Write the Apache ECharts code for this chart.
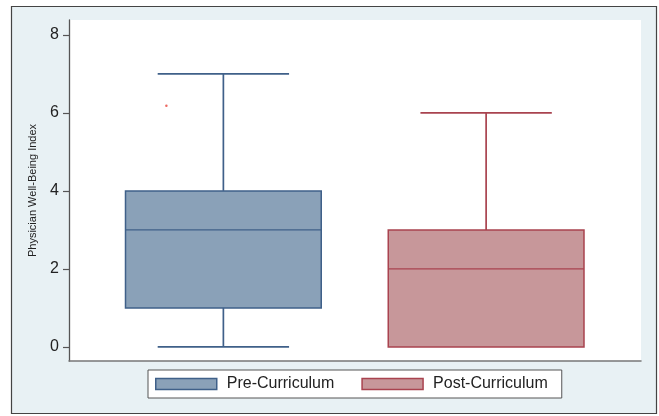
<!DOCTYPE html>
<html><head><meta charset="utf-8">
<script src="https://cdn.jsdelivr.net/npm/echarts@6/dist/echarts.min.js"></script>
<style>html,body{margin:0;padding:0;background:#fff}#c{width:659px;height:416px}</style>
</head><body><div id="c"></div>
<script>
const categories = ['Pre-Curriculum', 'Post-Curriculum'];
const mins    = [0, 0];
const q1s     = [1, 0];
const medians = [3, 2];
const q3s     = [4, 3];
const maxes   = [7, 6];
const outliers = [[0, 6.18]];
const yTicks = [0, 2, 4, 6, 8];
const yAxisName = 'Physician Well-Being Index';

const fills = ['#8aa1b8', '#c7979a'];
const strokes = ['#3f6089', '#a9434f'];

const chart = echarts.init(document.getElementById('c'), null, {renderer: 'canvas'});

function makeSeries(i) {
  return {
    name: categories[i],
    type: 'custom',
    xAxisIndex: 0, yAxisIndex: 0,
    itemStyle: {color: fills[i], borderColor: strokes[i], borderWidth: 1.5},
    data: [[i, mins[i], q1s[i], medians[i], q3s[i], maxes[i]]],
    renderItem: function (params, api) {
      const cat = api.value(0);
      const band = api.size([1, 0])[0];
      const bw = band * 0.745, cw = band * 0.5;
      const pMin = api.coord([cat, api.value(1)]);
      const pQ1 = api.coord([cat, api.value(2)]);
      const pMed = api.coord([cat, api.value(3)]);
      const pQ3 = api.coord([cat, api.value(4)]);
      const pMax = api.coord([cat, api.value(5)]);
      const cx = pMed[0];
      const st = {stroke: strokes[i], lineWidth: 1.7, fill: null};
      const children = [
        {type: 'line', shape: {x1: cx, y1: pQ3[1], x2: cx, y2: pMax[1]}, style: st},
        {type: 'line', shape: {x1: cx - cw / 2, y1: pMax[1], x2: cx + cw / 2, y2: pMax[1]}, style: st},
        {type: 'rect', shape: {x: cx - bw / 2, y: pQ3[1], width: bw, height: pQ1[1] - pQ3[1]},
          style: {fill: fills[i], stroke: strokes[i], lineWidth: 1.5}},
        {type: 'line', shape: {x1: cx - bw / 2, y1: pMed[1], x2: cx + bw / 2, y2: pMed[1]}, style: {stroke: strokes[i], lineWidth: 1.3}}
      ];
      if (pMin[1] - pQ1[1] > 0.5) {
        children.push({type: 'line', shape: {x1: cx, y1: pQ1[1], x2: cx, y2: pMin[1]}, style: st});
        children.push({type: 'line', shape: {x1: cx - cw / 2, y1: pMin[1], x2: cx + cw / 2, y2: pMin[1]}, style: st});
      }
      return {type: 'group', children: children};
    }
  };
}

const option = {
  animation: false,
  backgroundColor: '#ffffff',
  graphic: [{
    type: 'rect', z: -10, silent: true,
    shape: {x: 11.5, y: 6.5, width: 645, height: 407},
    style: {fill: '#e8f1f4', stroke: '#444', lineWidth: 1.2}
  }],
  grid: [
    {left: 92, right: 41.5, top: 20, bottom: 55, show: false},
    {left: 69, right: 18, top: 20, bottom: 55, show: true, backgroundColor: '#ffffff', borderWidth: 0, z: -1}
  ],
  xAxis: [
    {type: 'category', gridIndex: 0, data: categories, boundaryGap: true,
      axisLine: {show: false}, axisTick: {show: false}, axisLabel: {show: false}},
    {type: 'value', gridIndex: 1, min: 0, max: 1,
      axisLine: {show: true, lineStyle: {color: '#777', width: 1.5}},
      axisTick: {show: false}, axisLabel: {show: false}, splitLine: {show: false}}
  ],
  yAxis: [
    {type: 'value', gridIndex: 0, min: -0.36, max: 8.38, offset: 23,
      name: yAxisName, nameLocation: 'middle', nameGap: 31, nameRotate: 90,
      nameTextStyle: {fontFamily: 'Liberation Sans, Arial', fontSize: 11, color: '#222'},
      axisLine: {show: true, lineStyle: {color: '#555', width: 1.3}},
      axisTick: {show: true, length: 6, customValues: yTicks, lineStyle: {color: '#555', width: 1.2}},
      axisLabel: {customValues: yTicks, fontFamily: 'Liberation Sans, Arial', fontSize: 16, color: '#222', margin: 10},
      splitLine: {show: false}},
    {type: 'value', gridIndex: 1, show: false, min: 0, max: 1}
  ],
  legend: {
    left: 148, top: 370,
    backgroundColor: '#fff', borderColor: '#555', borderWidth: 1,
    padding: [6, 14, 6, 7],
    itemWidth: 61, itemHeight: 11, itemGap: 27,
    icon: 'rect',
    textStyle: {fontFamily: 'Liberation Sans, Arial', fontSize: 16, color: '#222', padding: [0, 0, 0, 5]},
    data: [
      {name: categories[0], itemStyle: {color: fills[0], borderColor: strokes[0], borderWidth: 1.5}},
      {name: categories[1], itemStyle: {color: fills[1], borderColor: strokes[1], borderWidth: 1.5}}
    ]
  },
  series: [
    makeSeries(0),
    makeSeries(1),
    {type: 'scatter', xAxisIndex: 0, yAxisIndex: 0, data: outliers,
      symbol: 'circle', symbolSize: 2.5, symbolOffset: [-57, 0],
      itemStyle: {color: '#e8443a'}, z: 5}
  ]
};
chart.setOption(option);
</script></body></html>
